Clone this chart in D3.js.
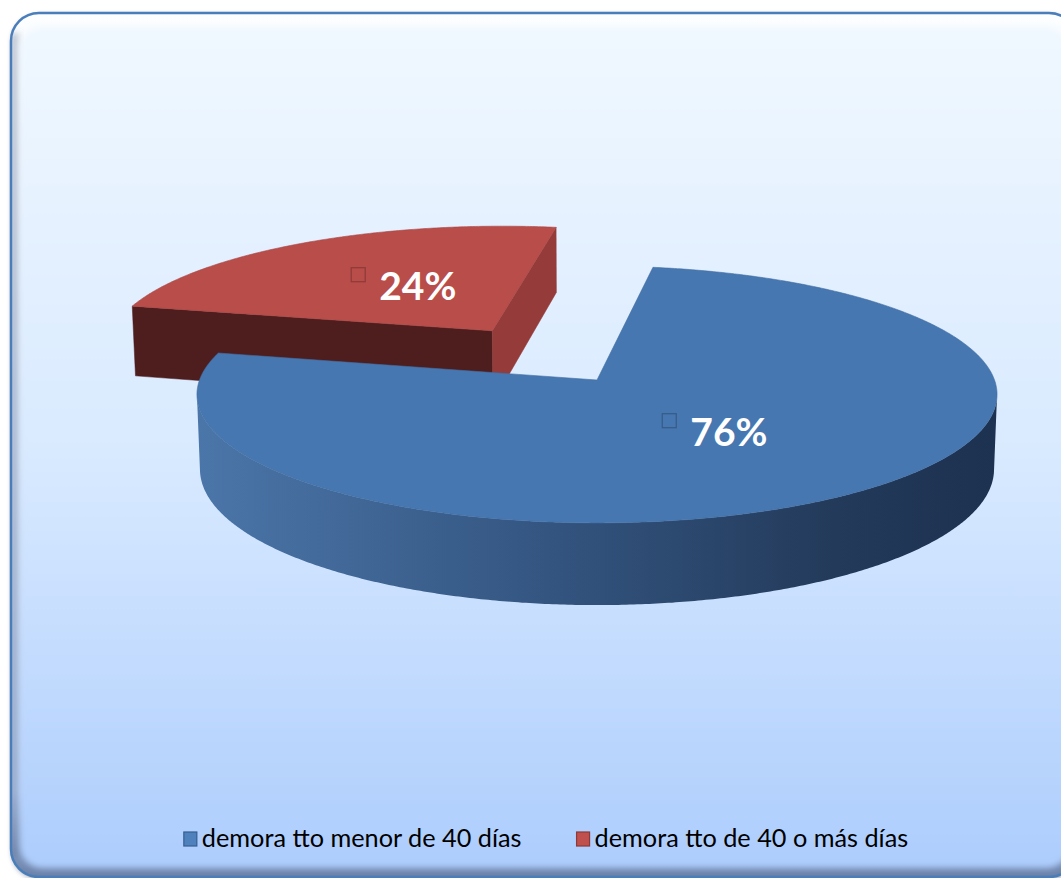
<!DOCTYPE html>
<html>
<head>
<meta charset="utf-8">
<script src="https://cdn.jsdelivr.net/npm/d3@7"></script>
<style>
  html, body { margin: 0; padding: 0; background: #ffffff; }
  svg { display: block; }
</style>
</head>
<body>
<svg id="chart" width="1061" height="878"></svg>
<script>
// ---- data ----
const categories = ["demora tto menor de 40 días", "demora tto de 40 o más días"];
const values = [76, 24];
const valueLabels = ["76%", "24%"];

// ---- styling ----
const topColors = ["#4777b0", "#b94d4a"];
const keyColors = ["#4f81bd", "#c0504d"];
const keyStrokes = ["#355f91", "#8c3a37"];
const startFaceColors = ["#22395a", "#4e1d1e"];
const endFaceColors = ["#3a6190", "#953c3a"];
const sideStops = [
  [["0%", "#4b76a9"], ["45%", "#33547f"], ["80%", "#233a5a"], ["100%", "#1d3150"]],
  [["0%", "#7a2d2b"], ["100%", "#4e1d1e"]]
];
const explodeBy = [0, 0.49];
const startAngleDeg = 9;

const W = 1061, H = 878;
const svg = d3.select("#chart");
const defs = svg.append("defs");

// ---- frame ----
const bg = defs.append("linearGradient").attr("id", "bgGrad")
  .attr("x1", 0).attr("y1", 0).attr("x2", 0).attr("y2", 1);
bg.append("stop").attr("offset", "0%").attr("stop-color", "#f0f8ff");
bg.append("stop").attr("offset", "50%").attr("stop-color", "#d9eaff");
bg.append("stop").attr("offset", "100%").attr("stop-color", "#adcdfd");

const bevel = defs.append("linearGradient").attr("id", "bevelGrad")
  .attr("x1", 0).attr("y1", 0).attr("x2", 0).attr("y2", 1);
bevel.append("stop").attr("offset", "0%").attr("stop-color", "#fcfeff");
bevel.append("stop").attr("offset", "90%").attr("stop-color", "#b8cdee");
bevel.append("stop").attr("offset", "100%").attr("stop-color", "#6a81a8");

const lg = defs.append("linearGradient").attr("id", "leftShade")
  .attr("x1", 0).attr("y1", 0).attr("x2", 1).attr("y2", 0);
lg.append("stop").attr("offset", "0%").attr("stop-color", "#5a6a8c").attr("stop-opacity", 0.55);
lg.append("stop").attr("offset", "100%").attr("stop-color", "#5a6a8c").attr("stop-opacity", 0);

const shadow = defs.append("filter").attr("id", "frameShadow")
  .attr("x", "-5%").attr("y", "-5%").attr("width", "110%").attr("height", "110%");
shadow.append("feDropShadow").attr("dx", 1).attr("dy", 2).attr("stdDeviation", 2.5)
  .attr("flood-color", "#1c2a44").attr("flood-opacity", 0.5);

const soft = defs.append("filter").attr("id", "soft")
  .attr("x", "-5%").attr("y", "-5%").attr("width", "110%").attr("height", "110%");
soft.append("feGaussianBlur").attr("stdDeviation", 3);

const frame = { x: 11, y: 13, w: 1066, h: 864, r: 28 };
defs.append("clipPath").attr("id", "frameClip").append("rect")
  .attr("x", frame.x).attr("y", frame.y).attr("width", frame.w).attr("height", frame.h)
  .attr("rx", frame.r);

svg.append("rect")
  .attr("x", frame.x).attr("y", frame.y).attr("width", frame.w).attr("height", frame.h)
  .attr("rx", frame.r).attr("fill", "url(#bevelGrad)").attr("filter", "url(#frameShadow)");

const inner = svg.append("g").attr("clip-path", "url(#frameClip)");
inner.append("rect")
  .attr("x", frame.x).attr("y", frame.y + 20).attr("width", 12).attr("height", frame.h - 40)
  .attr("fill", "url(#leftShade)").attr("filter", "url(#soft)");
inner.append("rect")
  .attr("x", frame.x + 9).attr("y", frame.y + 14).attr("width", frame.w - 17).attr("height", frame.h - 23)
  .attr("rx", 22).attr("fill", "url(#bgGrad)").attr("filter", "url(#soft)");

svg.append("rect")
  .attr("x", frame.x).attr("y", frame.y).attr("width", frame.w).attr("height", frame.h)
  .attr("rx", frame.r).attr("fill", "none").attr("stroke", "#4a7ebb").attr("stroke-width", 2.5);

// ---- 3D pie projection ----
const cam = { cx: 597, cy: 380, f: 3343, D: 8.41, sinA: 0.319 };
cam.cosA = Math.sqrt(1 - cam.sinA * cam.sinA);
const camPos = [0, cam.D * cam.sinA, cam.D * cam.cosA];
const R = 1, DEPTH = 0.198;

function project(x, y, z) {
  const d = cam.D - y * cam.sinA - z * cam.cosA;
  const w = y * cam.cosA - z * cam.sinA;
  return [cam.cx + cam.f * x / d, cam.cy - cam.f * w / d];
}
function rim(a, r, y, ox, oz) {
  return project(ox + r * Math.sin(a), y, oz - r * Math.cos(a));
}
function arcPts(a0, a1, r, y, ox, oz) {
  const n = Math.max(2, Math.ceil(Math.abs(a1 - a0) / (Math.PI / 360)));
  return d3.range(n + 1).map(i => rim(a0 + (a1 - a0) * i / n, r, y, ox, oz));
}
function facing(p, n) {
  return (camPos[0] - p[0]) * n[0] + (camPos[1] - p[1]) * n[1] + (camPos[2] - p[2]) * n[2] > 0;
}
const poly = d3.line().curve(d3.curveLinearClosed);

const pie = d3.pie().sort(null).value(d => d)
  .startAngle(startAngleDeg * Math.PI / 180)
  .endAngle(startAngleDeg * Math.PI / 180 + 2 * Math.PI);
const arcs = pie(values).map((a, i) => {
  const mid = (a.startAngle + a.endAngle) / 2;
  const e = explodeBy[i];
  return Object.assign({}, a, { i, mid, ox: e * Math.sin(mid), oz: -e * Math.cos(mid) });
});

// farther slices first
const order = arcs.slice().sort((a, b) => (a.oz - 0.5 * Math.cos(a.mid)) - (b.oz - 0.5 * Math.cos(b.mid)));
const pieG = svg.append("g");

order.forEach(s => {
  const g = pieG.append("g");
  const { ox, oz, startAngle: a0, endAngle: a1, i } = s;

  // outer side: contiguous visible runs
  const n = Math.max(2, Math.ceil((a1 - a0) / (Math.PI / 360)));
  const angles = d3.range(n + 1).map(k => a0 + (a1 - a0) * k / n);
  const runs = [];
  let cur = null;
  angles.forEach(a => {
    const p = [ox + Math.sin(a), -DEPTH / 2, oz - Math.cos(a)];
    const vis = facing(p, [Math.sin(a), 0, -Math.cos(a)]);
    if (vis) { if (!cur) { cur = []; runs.push(cur); } cur.push(a); } else cur = null;
  });
  runs.forEach((run, ri) => {
    if (run.length < 2) return;
    const top = run.map(a => rim(a, R, 0, ox, oz));
    const bot = run.slice().reverse().map(a => rim(a, R, -DEPTH, ox, oz));
    const xs = top.concat(bot).map(p => p[0]);
    const gid = "side" + i + "_" + ri;
    const grad = defs.append("linearGradient").attr("id", gid)
      .attr("gradientUnits", "userSpaceOnUse")
      .attr("x1", d3.min(xs)).attr("y1", 0).attr("x2", d3.max(xs)).attr("y2", 0);
    sideStops[i].forEach(([o, c]) => grad.append("stop").attr("offset", o).attr("stop-color", c));
    g.append("path").attr("d", poly(top.concat(bot))).attr("fill", `url(#${gid})`);
  });

  // radial faces
  const faces = [
    { a: a0, n: [-Math.cos(a0), 0, -Math.sin(a0)], color: startFaceColors[i] },
    { a: a1, n: [Math.cos(a1), 0, Math.sin(a1)], color: endFaceColors[i] }
  ];
  faces.forEach(fc => {
    if (!facing([ox, 0, oz], fc.n)) return;
    const pts = [
      project(ox, 0, oz), rim(fc.a, R, 0, ox, oz),
      rim(fc.a, R, -DEPTH, ox, oz), project(ox, -DEPTH, oz)
    ];
    g.append("path").attr("d", poly(pts)).attr("fill", fc.color)
      .attr("stroke", fc.color).attr("stroke-width", 0.5);
  });

  // top face
  const topPts = [project(ox, 0, oz)].concat(arcPts(a0, a1, R, 0, ox, oz));
  g.append("path").attr("d", poly(topPts)).attr("fill", topColors[i])
    .attr("stroke", d3.color(topColors[i]).darker(0.25)).attr("stroke-width", 0.6);
});

// ---- data labels ----
arcs.forEach(s => {
  const rho = 0.48 + explodeBy[s.i];
  const [ax, ay] = project(rho * Math.sin(s.mid), 0, -rho * Math.cos(s.mid));
  const base = ay + 13;
  svg.append("rect")
    .attr("x", ax - 47).attr("y", base - 32).attr("width", 14).attr("height", 14)
    .attr("fill", topColors[s.i]).attr("stroke", d3.color(topColors[s.i]).darker(0.7))
    .attr("stroke-width", 1.3);
  svg.append("text")
    .attr("x", ax - 19).attr("y", base)
    .attr("font-family", "Lato, 'Open Sans', sans-serif")
    .attr("font-weight", 700).attr("font-size", 39)
    .attr("fill", "#ffffff")
    .text(valueLabels[s.i]);
});

// ---- legend ----
const legend = svg.append("g");
const probe = legend.append("text")
  .attr("font-family", "Lato, 'Open Sans', sans-serif").attr("font-size", 20)
  .text(categories[0]);
const legendFont = 20 * 320 / probe.node().getComputedTextLength();
probe.remove();

const items = categories.map((c, i) => {
  const g = legend.append("g");
  const t = g.append("text")
    .attr("font-family", "Lato, 'Open Sans', sans-serif")
    .attr("font-size", legendFont).attr("fill", "#000000")
    .attr("x", 18).attr("y", 0)
    .text(c);
  g.append("rect")
    .attr("x", 0).attr("y", -15).attr("width", 13).attr("height", 14)
    .attr("fill", keyColors[i]).attr("stroke", keyStrokes[i]).attr("stroke-width", 1.2);
  return { g, w: 18 + t.node().getComputedTextLength() };
});
const gap = 55;
const total = d3.sum(items, d => d.w) + gap * (items.length - 1);
let lx = 546 - total / 2;
items.forEach(it => {
  it.g.attr("transform", `translate(${lx},${847})`);
  lx += it.w + gap;
});
</script>
</body>
</html>
